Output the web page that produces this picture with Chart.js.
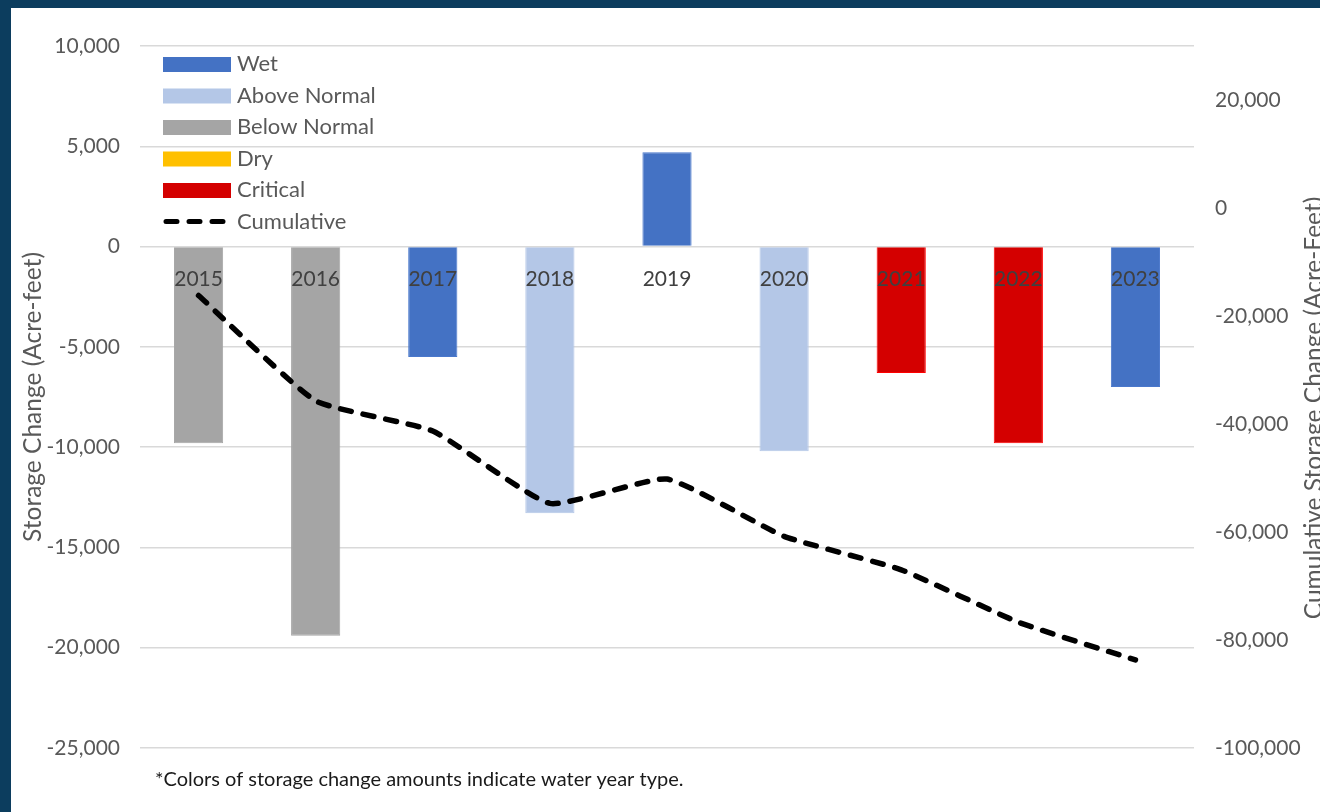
<!DOCTYPE html>
<html>
<head>
<meta charset="utf-8">
<script src="https://cdn.jsdelivr.net/npm/chart.js@4/dist/chart.umd.min.js"></script>
<style>
    html, body {
        margin: 0;
        padding: 0;
        width: 1320px;
        height: 812px;
        overflow: hidden;
        background: #0c3d5e;
    }
    #panel {
        position: absolute;
        left: 11px;
        top: 8px;
        width: 1340px;
        height: 804px;
        background: #ffffff;
    }
</style>
</head>
<body>
<div id="panel">
    <canvas id="storageChart" width="1340" height="804"></canvas>
</div>
<script>
// Data
const years = ['2015', '2016', '2017', '2018', '2019', '2020', '2021', '2022', '2023'];
const yearTypes = ['Below Normal', 'Below Normal', 'Wet', 'Above Normal', 'Wet', 'Above Normal', 'Critical', 'Critical', 'Wet'];
const storageChange = [-9800, -19400, -5500, -13300, 4700, -10200, -6300, -9800, -7000];
const cumulativeChange = [-16200, -35700, -41300, -54700, -50200, -60800, -67000, -76700, -83700];

// Tick labels
const leftTicks = [-25000, -20000, -15000, -10000, -5000, 0, 5000, 10000];
const rightTicks = [-100000, -80000, -60000, -40000, -20000, 0, 20000];

// Water year type legend
const typeNames = ['Wet', 'Above Normal', 'Below Normal', 'Dry', 'Critical'];
const typeColors = {
    'Wet': '#4472c4',
    'Above Normal': '#b4c7e7',
    'Below Normal': '#a5a5a5',
    'Dry': '#ffc000',
    'Critical': '#d40000'
};
const typeBorders = {
    'Wet': '#4a78cc',
    'Above Normal': '#b4c7e7',
    'Below Normal': '#a5a5a5',
    'Dry': '#ffc000',
    'Critical': '#ff0000'
};

const FONT = 'Lato, "Open Sans", sans-serif';
const fmt = v => Number(v).toLocaleString('en-US');

// Legend, axis titles and footnote drawn on the canvas
const extrasPlugin = {
    id: 'extras',
    afterDraw(chart) {
        const ctx = chart.ctx;
        ctx.save();

        // legend
        const swX = 152, swW = 68, textX = 226;
        let rowY = 56;
        ctx.font = '22px ' + FONT;
        ctx.textBaseline = 'middle';
        ctx.textAlign = 'left';
        typeNames.forEach(name => {
            ctx.fillStyle = typeColors[name];
            ctx.fillRect(swX, rowY - 7, swW, 15);
            ctx.fillStyle = '#595959';
            ctx.fillText(name, textX, rowY);
            rowY += 31.5;
        });
        ctx.strokeStyle = '#000000';
        ctx.lineWidth = 5;
        ctx.lineCap = 'round';
        ctx.setLineDash([11, 12]);
        ctx.beginPath();
        ctx.moveTo(swX + 3, rowY);
        ctx.lineTo(swX + swW, rowY);
        ctx.stroke();
        ctx.setLineDash([]);
        ctx.fillStyle = '#595959';
        ctx.fillText('Cumulative', textX, rowY);

        // axis titles
        ctx.font = '24.5px ' + FONT;
        ctx.fillStyle = '#595959';
        ctx.textAlign = 'center';
        ctx.save();
        ctx.translate(22, 389);
        ctx.rotate(-Math.PI / 2);
        ctx.fillText('Storage Change (Acre-feet)', 0, 0);
        ctx.restore();
        ctx.save();
        ctx.translate(1303, 400);
        ctx.rotate(-Math.PI / 2);
        ctx.fillText('Cumulative Storage Change (Acre-Feet)', 0, 0);
        ctx.restore();

        // footnote
        ctx.font = '20px ' + FONT;
        ctx.fillStyle = '#1a1a1a';
        ctx.textAlign = 'left';
        ctx.fillText('*Colors of storage change amounts indicate water year type.', 144, 772);

        ctx.restore();
    }
};

document.addEventListener('DOMContentLoaded', () => {
    const ctx = document.getElementById('storageChart');

    new Chart(ctx, {
        type: 'bar',
        data: {
            labels: years,
            datasets: [
                {
                    type: 'line',
                    label: 'Cumulative',
                    data: cumulativeChange,
                    yAxisID: 'y2',
                    borderColor: '#000000',
                    borderWidth: 5.5,
                    borderDash: [11, 12],
                    borderCapStyle: 'round',
                    pointRadius: 0,
                    tension: 0.15,
                    fill: false,
                    order: 0
                },
                {
                    label: 'Storage Change',
                    data: storageChange,
                    yAxisID: 'y',
                    backgroundColor: yearTypes.map(t => typeColors[t]),
                    borderColor: yearTypes.map(t => typeBorders[t]),
                    borderWidth: 1,
                    barPercentage: 1,
                    categoryPercentage: 0.42,
                    order: 1
                }
            ]
        },
        options: {
            responsive: false,
            animation: false,
            layout: {
                padding: { top: 38, bottom: 64, left: 0, right: 0 }
            },
            plugins: {
                legend: { display: false },
                tooltip: { enabled: false }
            },
            scales: {
                x: {
                    position: { y: 0 },
                    grid: { display: false },
                    border: { display: false },
                    ticks: {
                        z: 1,
                        color: '#404040',
                        font: { family: FONT, size: 21 },
                        padding: 12,
                        maxRotation: 0
                    }
                },
                y: {
                    position: 'left',
                    min: -25000,
                    max: 10000,
                    afterFit: scale => { scale.width = 129; },
                    afterBuildTicks: scale => {
                        scale.ticks = leftTicks.map(v => ({ value: v }));
                    },
                    grid: {
                        color: '#d9d9d9',
                        lineWidth: 1.5,
                        drawTicks: false
                    },
                    border: { display: false },
                    ticks: {
                        color: '#595959',
                        font: { family: FONT, size: 21 },
                        padding: 20,
                        callback: v => fmt(v)
                    }
                },
                y2: {
                    position: 'right',
                    min: -100000,
                    max: 30000,
                    afterFit: scale => { scale.width = 157; },
                    afterBuildTicks: scale => {
                        scale.ticks = rightTicks.map(v => ({ value: v }));
                    },
                    grid: { display: false, drawTicks: false },
                    border: { display: false },
                    ticks: {
                        color: '#595959',
                        font: { family: FONT, size: 21 },
                        padding: 21,
                        callback: v => fmt(v)
                    }
                }
            }
        },
        plugins: [extrasPlugin]
    });
});
</script>
</body>
</html>
